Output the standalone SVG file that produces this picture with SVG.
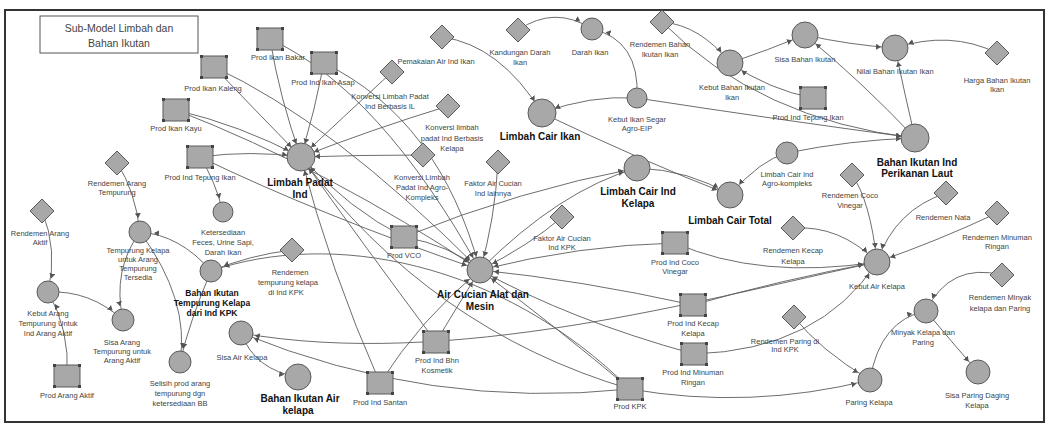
<svg xmlns="http://www.w3.org/2000/svg" xmlns:xlink="http://www.w3.org/1999/xlink" width="1049" height="426" viewBox="0 0 1049 426">
<style>
.n{fill:#a8a8a8;stroke:#5a5a5a;stroke-width:1}
.k{fill:#444}
.c path{fill:none;stroke:#5c5c5c;stroke-width:0.9;marker-end:url(#ar)}
text{font-family:"Liberation Sans",Arial,sans-serif;font-size:7.5px;fill:#444;text-anchor:middle}
.b{font-weight:bold;font-size:10px;fill:#111}
.s{font-weight:bold;font-size:8.5px;fill:#111}
</style>
<defs>
<marker id="ar" markerUnits="userSpaceOnUse" markerWidth="30" markerHeight="10" refX="19" refY="3" orient="auto"><path d="M0,0 L5,3 L0,6 z" fill="#555"/></marker>
<g id="lv"><rect class="n" x="-13" y="-11" width="26" height="22"/><rect class="k" x="-14" y="-12" width="3" height="3"/><rect class="k" x="11" y="-12" width="3" height="3"/><rect class="k" x="-14" y="9" width="3" height="3"/><rect class="k" x="11" y="9" width="3" height="3"/></g>
<path id="dm" class="n" d="M0,-12 L12,0 L0,12 L-12,0 z"/>
</defs>
<rect x="0" y="0" width="1049" height="426" fill="#fff"/>
<rect x="5" y="10" width="1039" height="412" fill="#fff" stroke="#333" stroke-width="2"/>
<g id="title"><rect x="40" y="16" width="158" height="37" fill="#fff" stroke="#555"/><text x="119" y="32" style="font-size:10.5px">Sub-Model Limbah dan</text><text x="119" y="47" style="font-size:10.5px">Bahan Ikutan</text></g>

<g class="c" id="connectors">
<path d="M270,39 Q280,100 301,157"/>
<path d="M324,63 Q315,110 301,157"/>
<path d="M214,67 Q255,110 301,157"/>
<path d="M176,110 Q240,125 301,157"/>
<path d="M200,157 Q250,150 301,157"/>
<path d="M270,39 Q380,90 480,270"/>
<path d="M324,63 Q440,120 480,270"/>
<path d="M214,67 Q330,120 480,270"/>
<path d="M176,110 Q330,170 480,270"/>
<path d="M200,157 Q320,215 480,270"/>
<path d="M200,157 Q215,180 223,212"/>
<path d="M392,72 Q340,120 301,157"/>
<path d="M448,106 Q370,130 301,157"/>
<path d="M423,155 Q360,155 301,157"/>
<path d="M442,37 Q500,45 542,113"/>
<path d="M518,30 Q555,5 592,29"/>
<path d="M637,98 Q640,40 592,29"/>
<path d="M637,98 Q590,95 542,113"/>
<path d="M637,98 Q780,120 915,138"/>
<path d="M662,22 Q700,25 730,63"/>
<path d="M662,22 Q760,120 915,138"/>
<path d="M730,63 Q768,50 805,35"/>
<path d="M805,35 Q850,45 895,48"/>
<path d="M997,53 Q950,30 895,48"/>
<path d="M915,138 Q905,95 895,48"/>
<path d="M915,138 Q860,80 805,35"/>
<path d="M813,98 Q770,90 730,63"/>
<path d="M542,113 Q640,160 730,195"/>
<path d="M637,168 Q690,170 730,195"/>
<path d="M787,153 Q760,160 730,195"/>
<path d="M787,153 Q850,140 915,138"/>
<path d="M480,270 Q560,190 637,168"/>
<path d="M404,237 Q520,190 637,168"/>
<path d="M498,162 Q495,220 480,270"/>
<path d="M562,217 Q530,245 480,270"/>
<path d="M675,243 Q580,245 480,270"/>
<path d="M675,243 Q760,280 877,262"/>
<path d="M693,305 Q580,280 480,270"/>
<path d="M693,305 Q780,280 877,262"/>
<path d="M694,354 Q570,320 480,270"/>
<path d="M694,354 Q820,350 877,262"/>
<path d="M630,389 Q750,410 870,380"/>
<path d="M630,389 Q560,330 480,270"/>
<path d="M630,389 Q430,410 241,333"/>
<path d="M630,389 Q430,330 301,157"/>
<path d="M404,237 Q350,210 301,157"/>
<path d="M404,237 Q450,245 480,270"/>
<path d="M380,383 Q330,270 301,157"/>
<path d="M380,383 Q420,320 480,270"/>
<path d="M436,342 Q455,310 480,270"/>
<path d="M436,342 Q360,240 301,157"/>
<path d="M877,262 C700,300 450,370 241,333"/>
<path d="M241,333 Q255,370 298,377"/>
<path d="M852,175 Q870,200 877,262"/>
<path d="M946,193 Q895,210 877,262"/>
<path d="M997,213 Q940,240 877,262"/>
<path d="M793,228 Q840,225 877,262"/>
<path d="M794,317 Q820,350 870,380"/>
<path d="M870,380 Q880,320 926,311"/>
<path d="M1002,275 Q950,262 926,311"/>
<path d="M926,311 Q950,340 978,372"/>
<path d="M117,163 Q135,190 140,232"/>
<path d="M211,271 Q180,235 140,232"/>
<path d="M140,232 Q112,270 123,320"/>
<path d="M48,292 Q90,290 123,320"/>
<path d="M42,211 Q58,250 48,292"/>
<path d="M67,376 Q70,330 48,292"/>
<path d="M211,271 Q190,320 180,362"/>
<path d="M140,232 Q190,300 180,362"/>
<path d="M292,250 Q250,255 211,271"/>
<path d="M630,389 C500,260 330,230 211,271"/>
</g>

<g id="n_pib"><use xlink:href="#lv" x="270" y="39"/><text x="278" y="60">Prod Ikan Bakar</text></g>
<g id="n_pia"><use xlink:href="#lv" x="324" y="63"/><text x="323" y="85">Prod Ind Ikan Asap</text></g>
<g id="n_pik"><use xlink:href="#lv" x="214" y="67"/><text x="213" y="91">Prod Ikan Kaleng</text></g>
<g id="n_piky"><use xlink:href="#lv" x="176" y="110"/><text x="176" y="131">Prod Ikan Kayu</text></g>
<g id="n_pti"><use xlink:href="#lv" x="200" y="157"/><text x="200" y="180">Prod Ind Tepung Ikan</text></g>
<g id="n_lpi"><circle class="n" cx="301" cy="157" r="14"/><text class="b" x="300" y="186">Limbah Padat</text><text class="b" x="300" y="198">Ind</text></g>
<g id="n_kfu"><circle class="n" cx="223" cy="212" r="10"/><text x="223" y="235">Ketersediaan</text><text x="223" y="245">Feces, Urine Sapi,</text><text x="223" y="255">Darah Ikan</text></g>
<g id="n_rat"><use xlink:href="#dm" x="117" y="163"/><text x="117" y="186">Rendemen Arang</text><text x="117" y="195">Tempurung</text></g>
<g id="n_tka"><circle class="n" cx="140" cy="232" r="11"/><text x="138" y="253">Tempurung Kelapa</text><text x="138" y="262">untuk Arang</text><text x="138" y="271">Tempurung</text><text x="138" y="280">Tersedia</text></g>
<g id="n_raa"><use xlink:href="#dm" x="42" y="211"/><text x="40" y="236">Rendemen Arang</text><text x="40" y="245">Aktif</text></g>
<g id="n_kat"><circle class="n" cx="48" cy="292" r="11"/><text x="48" y="316">Kebut Arang</text><text x="48" y="326">Tempurung Untuk</text><text x="48" y="336">Ind Arang Aktif</text></g>
<g id="n_sat"><circle class="n" cx="123" cy="320" r="11"/><text x="122" y="345">Sisa Arang</text><text x="122" y="354">Tempurung untuk</text><text x="122" y="363">Arang Aktif</text></g>
<g id="n_paa"><use xlink:href="#lv" x="67" y="376"/><text x="67" y="398">Prod Arang Aktif</text></g>
<g id="n_bit"><circle class="n" cx="211" cy="271" r="11"/><text class="s" x="212" y="296">Bahan Ikutan</text><text class="s" x="212" y="306">Tempurung Kelapa</text><text class="s" x="212" y="316">dari Ind KPK</text></g>
<g id="n_spa"><circle class="n" cx="180" cy="362" r="11"/><text x="180" y="386">Selisih prod arang</text><text x="180" y="396">tempurung dgn</text><text x="180" y="406">ketersediaan BB</text></g>
<g id="n_rtk"><use xlink:href="#dm" x="292" y="250"/><text x="290" y="275">Rendemen</text><text x="288" y="285">tempurung kelapa</text><text x="286" y="295">di Ind KPK</text></g>
<g id="n_sak"><circle class="n" cx="241" cy="333" r="12"/><text x="242" y="360">Sisa Air Kelapa</text></g>
<g id="n_bia"><circle class="n" cx="298" cy="377" r="13"/><text class="b" x="300" y="402">Bahan Ikutan Air</text><text class="b" x="298" y="414">kelapa</text></g>
<g id="n_pis"><use xlink:href="#lv" x="380" y="383"/><text x="380" y="405">Prod Ind Santan</text></g>
<g id="n_pbk"><use xlink:href="#lv" x="436" y="342"/><text x="437" y="363">Prod Ind Bhn</text><text x="437" y="373">Kosmetik</text></g>
<g id="n_pvco"><use xlink:href="#lv" x="404" y="237"/><text x="404" y="258">Prod VCO</text></g>
<g id="n_aca"><circle class="n" cx="480" cy="270" r="13"/><text class="b" x="483" y="298">Air Cucian Alat dan</text><text class="b" x="480" y="310">Mesin</text></g>
<g id="n_pai"><use xlink:href="#dm" x="442" y="37"/><text x="436" y="64">Pemakaian Air Ind Ikan</text></g>
<g id="n_kil"><use xlink:href="#dm" x="392" y="72"/><text x="390" y="99">Konversi Limbah Padat</text><text x="390" y="109">Ind Berbasis IL</text></g>
<g id="n_kkl"><use xlink:href="#dm" x="448" y="106"/><text x="452" y="130">Konversi limbah</text><text x="452" y="141">padat Ind Berbasis</text><text x="452" y="151">Kelapa</text></g>
<g id="n_kag"><use xlink:href="#dm" x="423" y="155"/><text x="422" y="180">Konversi Limbah</text><text x="422" y="190">Padat Ind Agro-</text><text x="422" y="200">Kompleks</text></g>
<g id="n_fal"><use xlink:href="#dm" x="498" y="162"/><text x="493" y="186">Faktor Air Cucian</text><text x="493" y="196">Ind lainnya</text></g>
<g id="n_fak"><use xlink:href="#dm" x="562" y="217"/><text x="562" y="241">Faktor Air Cucian</text><text x="562" y="250">Ind KPK</text></g>
<g id="n_kdi"><use xlink:href="#dm" x="518" y="30"/><text x="520" y="55">Kandungan Darah</text><text x="520" y="65">Ikan</text></g>
<g id="n_lci"><circle class="n" cx="542" cy="113" r="14"/><text class="b" x="540" y="140">Limbah Cair Ikan</text></g>
<g id="n_di"><circle class="n" cx="592" cy="29" r="11"/><text x="590" y="55">Darah Ikan</text></g>
<g id="n_kis"><circle class="n" cx="637" cy="98" r="10"/><text x="637" y="122">Kebut Ikan Segar</text><text x="637" y="131">Agro-EIP</text></g>
<g id="n_rbi"><use xlink:href="#dm" x="662" y="22"/><text x="660" y="47">Rendemen Bahan</text><text x="660" y="57">Ikutan Ikan</text></g>
<g id="n_kbi"><circle class="n" cx="730" cy="63" r="13"/><text x="732" y="90">Kebut Bahan Ikutan</text><text x="732" y="100">Ikan</text></g>
<g id="n_sbi"><circle class="n" cx="805" cy="35" r="13"/><text x="805" y="62">Sisa Bahan Ikutan</text></g>
<g id="n_nbi"><circle class="n" cx="895" cy="48" r="13"/><text x="895" y="74">Nilai Bahan Ikutan Ikan</text></g>
<g id="n_hbi"><use xlink:href="#dm" x="997" y="53"/><text x="997" y="83">Harga Bahan Ikutan</text><text x="997" y="92">Ikan</text></g>
<g id="n_pti2"><use xlink:href="#lv" x="813" y="98"/><text x="808" y="120">Prod Ind Tepung Ikan</text></g>
<g id="n_bip"><circle class="n" cx="915" cy="138" r="14"/><text class="b" x="917" y="166">Bahan Ikutan Ind</text><text class="b" x="917" y="177">Perikanan Laut</text></g>
<g id="n_lca"><circle class="n" cx="787" cy="153" r="11"/><text x="787" y="177">Limbah Cair Ind</text><text x="787" y="186">Agro-kompleks</text></g>
<g id="n_lck"><circle class="n" cx="637" cy="168" r="13"/><text class="b" x="638" y="195">Limbah Cair Ind</text><text class="b" x="638" y="207">Kelapa</text></g>
<g id="n_lct"><circle class="n" cx="730" cy="195" r="13"/><text class="b" x="730" y="224">Limbah Cair Total</text></g>
<g id="n_rcv"><use xlink:href="#dm" x="852" y="175"/><text x="850" y="198">Rendemen Coco</text><text x="850" y="208">Vinegar</text></g>
<g id="n_rn"><use xlink:href="#dm" x="946" y="193"/><text x="943" y="220">Rendemen Nata</text></g>
<g id="n_rmr"><use xlink:href="#dm" x="997" y="213"/><text x="997" y="240">Rendemen Minuman</text><text x="997" y="249">Ringan</text></g>
<g id="n_rkk"><use xlink:href="#dm" x="793" y="228"/><text x="793" y="253">Rendemen Kecap</text><text x="793" y="264">Kelapa</text></g>
<g id="n_kak"><circle class="n" cx="877" cy="262" r="13"/><text x="877" y="289">Kebut Air Kelapa</text></g>
<g id="n_pcv"><use xlink:href="#lv" x="675" y="243"/><text x="675" y="265">Prod Ind Coco</text><text x="675" y="274">Vinegar</text></g>
<g id="n_pkk"><use xlink:href="#lv" x="693" y="305"/><text x="693" y="326">Prod Ind Kecap</text><text x="693" y="336">Kelapa</text></g>
<g id="n_pmr"><use xlink:href="#lv" x="694" y="354"/><text x="693" y="375">Prod Ind Minuman</text><text x="693" y="385">Ringan</text></g>
<g id="n_pkpk"><use xlink:href="#lv" x="630" y="389"/><text x="630" y="409">Prod KPK</text></g>
<g id="n_rpk"><use xlink:href="#dm" x="794" y="317"/><text x="785" y="344">Rendemen Paring di</text><text x="785" y="352">Ind KPK</text></g>
<g id="n_rmk"><use xlink:href="#dm" x="1002" y="275"/><text x="1000" y="300">Rendemen Minyak</text><text x="1000" y="311">kelapa dan Paring</text></g>
<g id="n_mkp"><circle class="n" cx="926" cy="311" r="12"/><text x="923" y="335">Minyak Kelapa dan</text><text x="923" y="345">Paring</text></g>
<g id="n_spd"><circle class="n" cx="978" cy="372" r="12"/><text x="977" y="398">Sisa Paring Daging</text><text x="977" y="408">Kelapa</text></g>
<g id="n_pk"><circle class="n" cx="870" cy="380" r="12"/><text x="869" y="405">Paring Kelapa</text></g>
</svg>
